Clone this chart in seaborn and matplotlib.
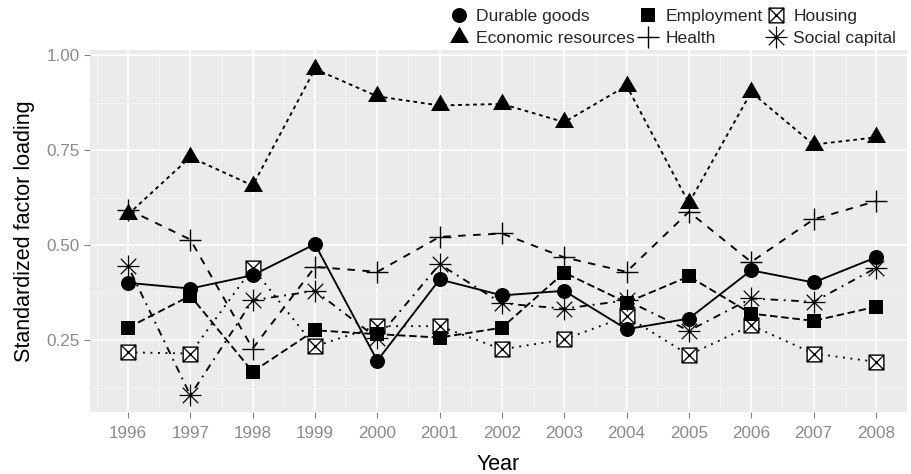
import numpy as np
import pandas as pd
import matplotlib
matplotlib.use("Agg")
import matplotlib.pyplot as plt
from matplotlib.path import Path
from matplotlib.markers import MarkerStyle
from matplotlib.lines import Line2D
from matplotlib.ticker import FixedLocator
import seaborn as sns

# ---- data -----------------------------------------------------------------
years = [1996, 1997, 1998, 1999, 2000, 2001, 2002, 2003, 2004, 2005, 2006, 2007, 2008]

durable_goods = [0.401, 0.386, 0.421, 0.503, 0.196, 0.410, 0.368, 0.380, 0.279, 0.307, 0.434, 0.402, 0.468]
economic_resources = [0.581, 0.732, 0.657, 0.964, 0.892, 0.868, 0.872, 0.824, 0.920, 0.611, 0.903, 0.765, 0.784]
employment = [0.283, 0.367, 0.167, 0.276, 0.266, 0.257, 0.283, 0.428, 0.349, 0.418, 0.320, 0.301, 0.338]
health = [0.594, 0.515, 0.228, 0.443, 0.430, 0.522, 0.531, 0.468, 0.430, 0.588, 0.456, 0.568, 0.616]
housing = [0.218, 0.215, 0.440, 0.234, 0.287, 0.287, 0.226, 0.252, 0.313, 0.211, 0.289, 0.215, 0.193]
social_capital = [0.445, 0.105, 0.355, 0.380, 0.255, 0.450, 0.347, 0.333, 0.355, 0.275, 0.360, 0.351, 0.440]

factor_names = ["Durable goods", "Economic resources", "Employment",
                "Health", "Housing", "Social capital"]
y_ticks = [0.25, 0.50, 0.75, 1.00]
y_tick_labels = ["0.25", "0.50", "0.75", "1.00"]

df = pd.DataFrame({
    "Year": years * 6,
    "loading": durable_goods + economic_resources + employment + health + housing + social_capital,
    "factor": [f for f in factor_names for _ in years],
})

# ---- marker shapes ----------------------------------------------------------
s3 = np.sqrt(3) / 2
triangle = MarkerStyle(Path([(0, 1), (-s3, -0.5), (s3, -0.5), (0, 1)],
                            [Path.MOVETO, Path.LINETO, Path.LINETO, Path.CLOSEPOLY]))
d = np.sqrt(0.5)
asterisk = MarkerStyle(Path(
    [(-1, 0), (1, 0), (0, -1), (0, 1), (-d, -d), (d, d), (-d, d), (d, -d)],
    [Path.MOVETO, Path.LINETO] * 4))
boxed_x = MarkerStyle(Path(
    [(-1, -1), (1, -1), (1, 1), (-1, 1), (-1, -1), (-1, -1), (1, 1), (-1, 1), (1, -1)],
    [Path.MOVETO, Path.LINETO, Path.LINETO, Path.LINETO, Path.CLOSEPOLY,
     Path.MOVETO, Path.LINETO, Path.MOVETO, Path.LINETO]))

styles = {
    "Durable goods":      dict(dash=None,          marker="o",      ms=10.8, mfc="black", mew=0.0),
    "Economic resources": dict(dash=(2, 2),        marker=triangle, ms=15.8, mfc="black", mew=0.0),
    "Employment":         dict(dash=(4, 2),        marker="s",      ms=10.4, mfc="black", mew=0.0),
    "Health":             dict(dash=(4, 4),        marker="+",      ms=16.4, mfc="none",  mew=1.0),
    "Housing":            dict(dash=(1, 3),        marker=boxed_x,  ms=10.6, mfc="white", mew=1.0),
    "Social capital":     dict(dash=(1, 3, 4, 3),  marker=asterisk, ms=15.8, mfc="none",  mew=0.9),
}
marker_order = ["Housing", "Health", "Social capital", "Durable goods",
                "Economic resources", "Employment"]

# ---- theme ------------------------------------------------------------------
sns.set_theme(style="darkgrid", rc={
    "axes.facecolor": "#EBEBEB",
    "axes.edgecolor": "#EBEBEB",
    "grid.color": "white",
    "figure.facecolor": "white",
})
plt.rcParams["font.family"] = ["Liberation Sans", "DejaVu Sans"]

W, H = 912, 474
fig = plt.figure(figsize=(W / 100, H / 100), dpi=100)
left, right, top, bottom = 90, 907, 50, 412
ax = fig.add_axes([left / W, 1 - bottom / H, (right - left) / W, (bottom - top) / H])

lw = 1.35
# lines first
for name in factor_names:
    st = styles[name]
    sub = df[df["factor"] == name]
    ls = "-" if st["dash"] is None else (0, st["dash"])
    sns.lineplot(data=sub, x="Year", y="loading", ax=ax, color="black",
                 linewidth=lw, linestyle=ls, legend=False, zorder=3)

# then points
for name in marker_order:
    st = styles[name]
    sub = df[df["factor"] == name]
    sns.lineplot(data=sub, x="Year", y="loading", ax=ax, color="black",
                 linestyle="none", marker=st["marker"], markersize=st["ms"],
                 markerfacecolor=st["mfc"], markeredgecolor="black",
                 markeredgewidth=st["mew"], legend=False, zorder=4)

# ---- axes -------------------------------------------------------------------
for sp in ax.spines.values():
    sp.set_visible(False)
ax.set_xlim(1995.39, 2008.5)
ax.set_ylim(0.061, 1.014)
ax.set_xticks(years)
ax.set_xticklabels([str(y) for y in years])
ax.set_yticks(y_ticks)
ax.set_yticklabels(y_tick_labels)
ax.xaxis.set_minor_locator(FixedLocator(np.arange(1995.5, 2009.0, 1.0)))
ax.yaxis.set_minor_locator(FixedLocator([0.125, 0.375, 0.625, 0.875]))
ax.grid(which="major", color="white", linewidth=1.1)
ax.grid(which="minor", color="#F4F4F4", linewidth=0.55)
ax.set_axisbelow(True)
ax.tick_params(which="major", length=4.3, width=0.8, color="#808080",
               labelcolor="#8A8A8A", labelsize=12.3, bottom=True, left=True)
ax.tick_params(axis="x", which="major", pad=6)
ax.tick_params(axis="y", which="major", pad=3)
ax.tick_params(which="minor", length=0)
ax.set_xlabel("Year", fontsize=15.5, color="black", labelpad=9)
ax.set_ylabel("Standardized factor loading", fontsize=15.5, color="black", labelpad=8)

# ---- legend -----------------------------------------------------------------
handles = []
for name in factor_names:
    st = styles[name]
    handles.append(Line2D([], [], linestyle="none", marker=st["marker"],
                          markersize=st["ms"], markerfacecolor=st["mfc"],
                          markeredgecolor="black", markeredgewidth=st["mew"],
                          color="black"))
leg = fig.legend(handles, factor_names, ncol=3, loc="upper right",
                 bbox_to_anchor=(898 / W, 1 - 7 / H), frameon=True,
                 facecolor="white", edgecolor="none", framealpha=1.0,
                 fontsize=12.6, handlelength=1.0, handletextpad=0.5,
                 columnspacing=0.25, labelspacing=0.4, borderpad=0.1,
                 borderaxespad=0)
leg.set_zorder(10)

fig.savefig("out.png", dpi=100)
